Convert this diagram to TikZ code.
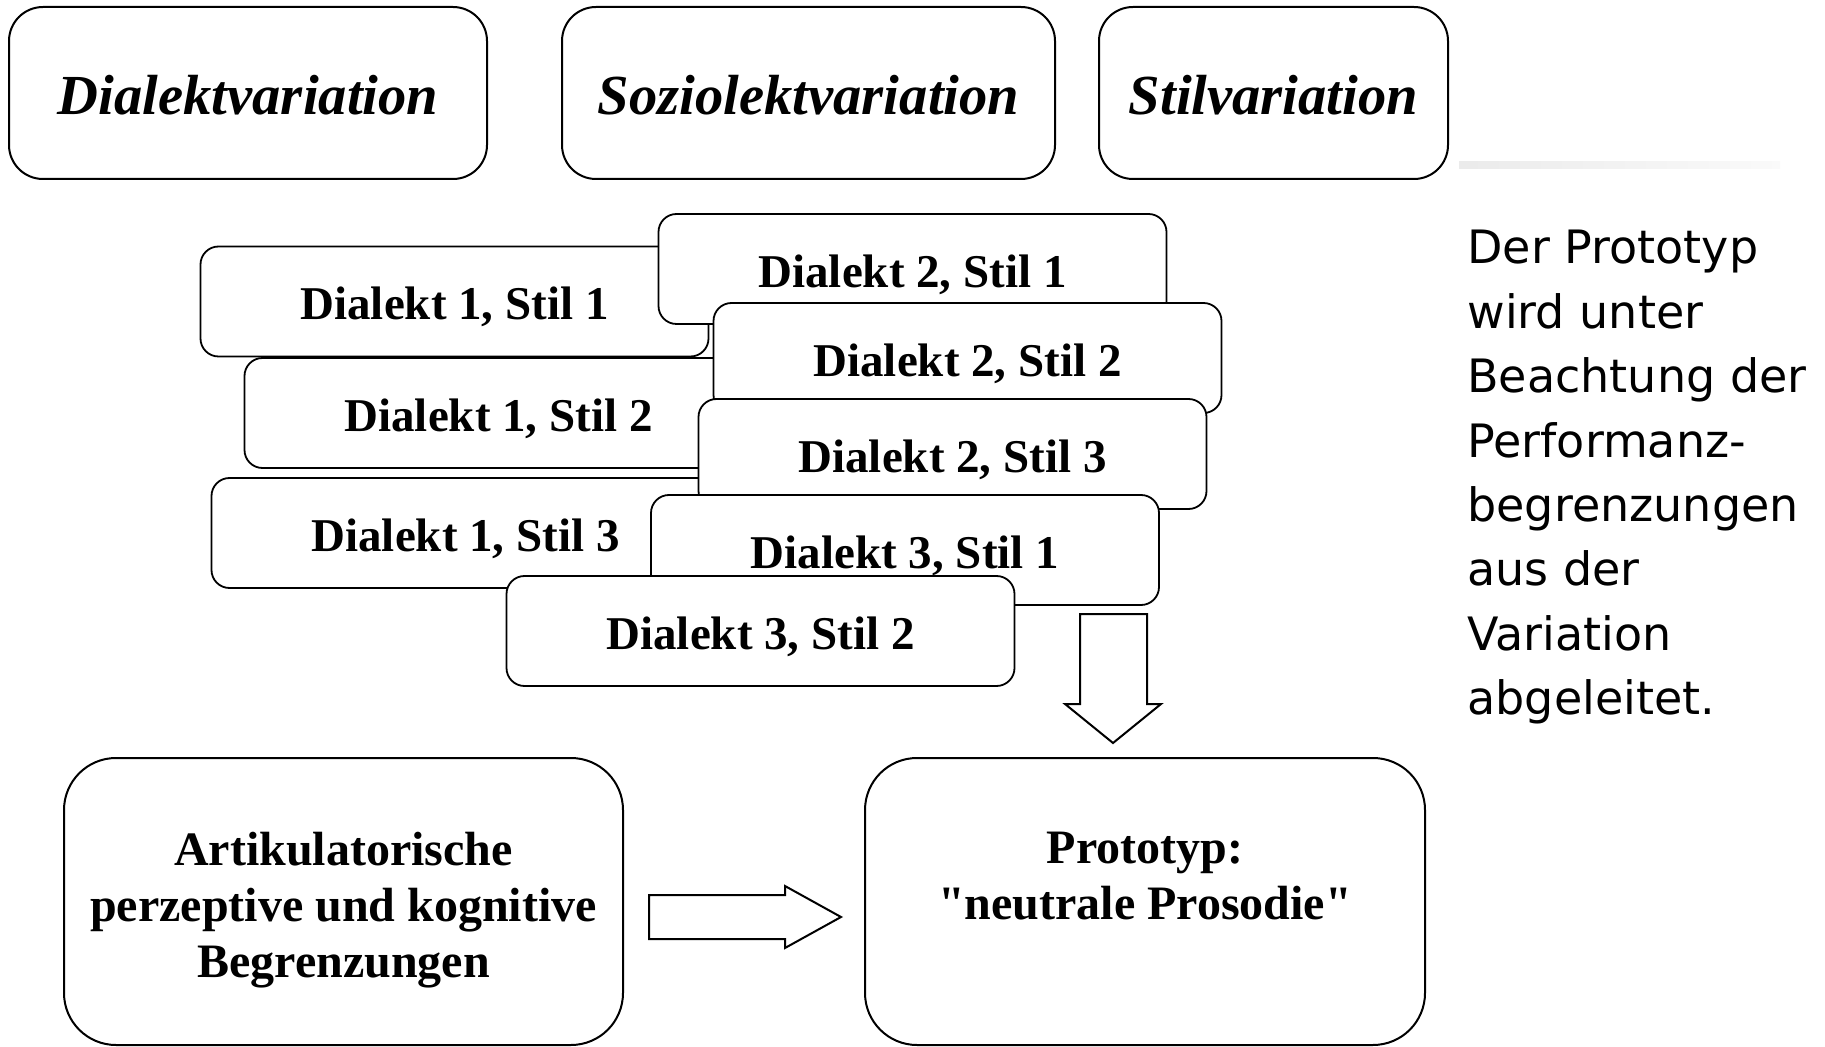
\documentclass[tikz,border=0pt]{standalone}
\usepackage{fontspec}
\setmainfont{Liberation Serif}
\newfontfamily\plainserif{Liberation Serif}
\newfontfamily\sidefont{DejaVu Sans}
\begin{document}
\begin{tikzpicture}[x=0.5pt,y=-0.5pt,
  topbox/.style={draw,line width=1pt,rounded corners=17pt,minimum height=86pt,fill=white,
     text height=21.6pt,text depth=0pt,
     font=\fontsize{28.3pt}{32pt}\selectfont\bfseries\itshape},
  smallbox/.style={draw,line width=0.9pt,rounded corners=9pt,minimum width=254pt,minimum height=55pt,fill=white,
     text height=20pt,text depth=1.5pt,
     font=\fontsize{23.5pt}{27pt}\selectfont\bfseries},
  bigbox/.style={draw,line width=1pt,rounded corners=26pt,minimum height=143.5pt,fill=white},
  bigtext/.style={align=center,inner sep=0pt,font=\fontsize{24pt}{28pt}\selectfont\bfseries},
  blockarrow/.style={draw,line width=1pt,fill=white,line join=miter},
  sidetext/.style={align=left,inner sep=0pt,anchor=north west,
     font=\fontsize{23pt}{32.2pt}\sidefont}
]
\useasboundingbox (0,0) rectangle (1825,1047);
\fill[white] (0,0) rectangle (1825,1047);

% top category boxes
\node[topbox,minimum width=239pt]   (dv) at (248,93)    {Dialektvariation};
\node[topbox,minimum width=246.5pt] (sv) at (808.5,93)  {Soziolektvariation};
\node[topbox,minimum width=174.5pt] (st) at (1273.5,93) {Stilvariation};

% faint grey rule at the top right
\shade[left color=black!8,right color=black!2] (1459,162) rectangle (1780,169);

% stacked dialect/style boxes (drawing order = stacking order)
\node[smallbox] (d1s1) at (454.5,301.5) {Dialekt 1, Stil 1};
\node[smallbox] (d2s1) at (912.5,269)   {Dialekt 2, Stil 1};
\node[smallbox] (d1s2) at (498.5,413)   {Dialekt 1, Stil 2};
\node[smallbox] (d2s2) at (967.5,358)   {Dialekt 2, Stil 2};
\node[smallbox] (d1s3) at (465.5,533)   {Dialekt 1, Stil 3};
\node[smallbox] (d2s3) at (952.5,454)   {Dialekt 2, Stil 3};
\node[smallbox] (d3s1) at (905,550)     {Dialekt 3, Stil 1};
\node[smallbox] (d3s2) at (760.5,631)   {Dialekt 3, Stil 2};

% bottom boxes
\node[bigbox,minimum width=279.5pt] (art) at (343.5,901.5) {};
\node[bigtext] (artlabel) at (343.5,910.5)
  {Artikulatorische\\perzeptive und kognitive\\Begrenzungen};
\node[bigbox,minimum width=280pt] (proto) at (1145,901.5) {};
\node[bigtext,font=\fontsize{24pt}{28pt}\selectfont\plainserif\bfseries] (protolabel) at (1145,876)
  {Prototyp:\\"neutrale Prosodie"};

% block arrows
\draw[blockarrow] (649,895) -- (785,895) -- (785,886) -- (841,917) -- (785,948) -- (785,939) -- (649,939) -- cycle;
\draw[blockarrow] (1080,614) -- (1147,614) -- (1147,704) -- (1161,704) -- (1113,743) -- (1065,704) -- (1080,704) -- cycle;

% side text
\node[sidetext] (side) at (1467,230)
  {Der Prototyp\\wird unter\\Beachtung der\\Performanz-\\begrenzungen\\aus der\\Variation\\abgeleitet.};
\end{tikzpicture}
\end{document}
